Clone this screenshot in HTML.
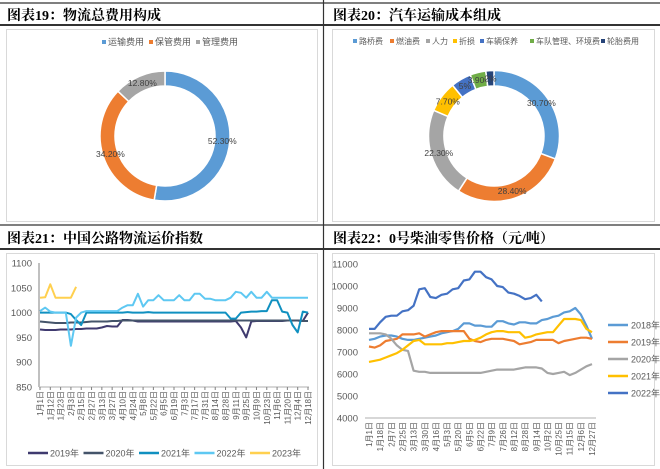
<!DOCTYPE html>
<html><head><meta charset="utf-8">
<style>
html,body{margin:0;padding:0;background:#fff;}
svg{display:block;font-family:"Liberation Sans","Noto Sans CJK SC",sans-serif;}
.t{font-family:"Liberation Serif","Noto Serif CJK SC",serif;font-weight:bold;font-size:14px;fill:#000;}
.ax{fill:#595959;font-size:9.5px;}
.xl{fill:#595959;font-size:8px;}
.lg{fill:#595959;font-size:9px;}
.lg2{fill:#595959;font-size:8px;}
</style></head><body>
<svg id="s" width="660" height="469" viewBox="0 0 660 469">
<g>
<line x1="0" y1="3" x2="660" y2="3" stroke="#333" stroke-width="1.2"/>
<line x1="0" y1="25" x2="660" y2="25" stroke="#333" stroke-width="2"/>
<line x1="0" y1="225" x2="660" y2="225" stroke="#333" stroke-width="1.2"/>
<line x1="0" y1="249" x2="660" y2="249" stroke="#333" stroke-width="2"/>
<line x1="323.5" y1="0" x2="323.5" y2="469" stroke="#333" stroke-width="1.2"/>
<rect x="6.5" y="29.5" width="311" height="192" fill="none" stroke="#d9d9d9"/>
<rect x="332.5" y="29.5" width="322" height="192" fill="none" stroke="#d9d9d9"/>
<rect x="6.5" y="253.5" width="311" height="212" fill="none" stroke="#d9d9d9"/>
<rect x="332.5" y="253.5" width="322" height="212" fill="none" stroke="#d9d9d9"/>
</g>
<text class="t" x="7" y="20">图表19：物流总费用构成</text>
<text class="t" x="333" y="20">图表20：汽车运输成本组成</text>
<text class="t" x="7" y="243">图表21：中国公路物流运价指数</text>
<text class="t" x="333" y="243">图表22：0号柴油零售价格（元/吨）</text>
<g id="c1"></g>
<g id="c2"></g>
<g id="c3"></g>
<g id="c4"></g>
</svg>
<script>
// ---- Chart 19 data
const c1Cats=["运输费用","保管费用","管理费用"];
const c1Vals=[52.3,34.2,12.8];
const c1Labels=["52.30%","34.20%","12.80%"];
const c1Colors=["#5b9bd5","#ed7d31","#a5a5a5"];
// ---- Chart 20 data
const c2Cats=["路桥费","燃油费","人力","折损","车辆保养","车队管理、环境费","轮胎费用"];
const c2Vals=[30.7,28.4,22.3,7.7,5,3.9,2.0];
const c2Labels=["30.70%","28.40%","22.30%","7.70%","5%","3.90%","2%"];
const c2Colors=["#5b9bd5","#ed7d31","#a5a5a5","#ffc000","#4472c4","#70ad47","#264478"];
// ---- Chart 21 data
const c3Ticks=[850,900,950,1000,1050,1100];
const c3XLabels=["1月1日","1月12日","1月23日","2月3日","2月15日","2月27日","3月13日","3月27日","4月10日","4月24日","5月8日","5月22日","6月5日","6月19日","7月3日","7月17日","7月31日","8月14日","8月28日","9月11日","9月25日","10月9日","10月23日","11月6日","11月20日","12月4日","12月18日"];
const c3Names=["2019年","2020年","2021年","2022年","2023年"];
const s2019=[966,965,965,965,966,966,966,967,967,968,968,968,970,973,972,972,985,985,984,982,982,982,982,982,982,982,982,982,982,982,982,982,982,982,982,982,982,982,983,970,950,982,983,983,983,983,983,983,984,984,984,983,1000];
const s2020=[982,981,980,979,979,979,980,980,980,981,982,982,982,982,983,983,984,984,984,984,984,984,984,984,984,984,984,984,984,984,984,984,984,984,984,984,984,984,984,984,984,984,984,984,984,984,984,984,984,984,984,983,983];
const s2021=[1000,1000,1000,1000,1000,1000,997,985,975,1000,1000,1000,1000,1000,1000,1000,1000,1001,1000,1000,1000,1001,1000,1000,1000,1000,1000,1000,1000,1000,1000,1000,1000,1000,1000,1000,1000,988,988,1000,1001,1002,1002,1003,1003,1025,1025,1002,1000,975,960,1002,1000];
const s2022=[1003,1010,1002,1000,1000,1000,933,990,1000,1003,1003,1003,1003,1003,1003,1003,1010,1015,1015,1038,1012,1025,1025,1035,1025,1025,1025,1035,1025,1025,1038,1038,1028,1028,1025,1025,1025,1030,1042,1040,1030,1042,1030,1030,1042,1030,1030,1030,1030,1030,1030,1030,1030];
const s2023=[1030,1031,1057,1030,1030,1030,1030,1052];
// ---- Chart 22 data
const c4Ticks=[4000,5000,6000,7000,8000,9000,10000,11000];
const c4XLabels=["1月1日","1月18日","2月7日","2月25日","3月13日","3月30日","4月16日","5月3日","5月20日","6月5日","6月22日","7月9日","7月26日","8月12日","8月28日","9月14日","10月2日","10月25日","11月15日","12月6日","12月27日"];
const c4Names=["2018年","2019年","2020年","2021年","2022年"];
const d2018=[7550,7600,7700,7750,7750,7700,7600,7550,7550,7600,7650,7700,7750,7850,7900,7950,8050,8300,8300,8200,8200,8150,8150,8400,8400,8300,8250,8350,8350,8300,8300,8450,8500,8600,8650,8800,8850,9000,8700,8200,7600];
const d2019=[7250,7200,7300,7500,7550,7600,7800,7800,7800,7850,7700,7800,7900,7950,7950,7950,7950,7950,7600,7500,7450,7550,7600,7600,7600,7550,7500,7350,7400,7450,7550,7550,7550,7550,7400,7500,7550,7600,7650,7650,7600];
const d2020=[7850,7850,7850,7800,7600,7300,7100,7050,6150,6100,6100,6050,6050,6050,6050,6050,6050,6050,6050,6050,6050,6100,6150,6200,6200,6200,6200,6250,6300,6300,6300,6250,6050,6000,6050,6100,5950,6050,6200,6350,6450];
const d2021=[6550,6600,6650,6750,6850,6950,7100,7300,7500,7550,7350,7350,7350,7350,7400,7400,7450,7500,7500,7550,7650,7800,7900,7950,7950,7900,7900,7900,7650,7700,7800,7850,7900,7900,8200,8500,8500,8500,8450,8050,7900];
const d2022=[8050,8050,8350,8600,8650,8650,8850,8900,9100,9850,9900,9500,9450,9600,9650,9850,9900,10250,10300,10650,10650,10400,10300,10000,9950,9700,9650,9550,9400,9450,9600,9300];

const NS="http://www.w3.org/2000/svg";
function mk(tag,attrs,parent,txt){const e=document.createElementNS(NS,tag);for(const k in attrs)e.setAttribute(k,attrs[k]);if(txt!==undefined)e.textContent=txt;parent.appendChild(e);return e;}

function donut(g,vals,labels,colors,cx,cy,ro,ri,names){
  const tot=vals.reduce((a,b)=>a+b,0);let a0=0;
  vals.forEach((v,i)=>{
    const a1=a0+v/tot*2*Math.PI;
    const p=(a,r)=>[cx+r*Math.sin(a),cy-r*Math.cos(a)];
    const [x1,y1]=p(a0,ro),[x2,y2]=p(a1,ro),[x3,y3]=p(a1,ri),[x4,y4]=p(a0,ri);
    const lg=(a1-a0)>Math.PI?1:0;
    const el=mk("path",{d:`M${x1},${y1}A${ro},${ro} 0 ${lg} 1 ${x2},${y2}L${x3},${y3}A${ri},${ri} 0 ${lg} 0 ${x4},${y4}Z`,fill:colors[i],stroke:"#fff","stroke-width":1.5},g);
    
    
    const [lx,ly]=p((a0+a1)/2,(ro+ri)/2);
    const t=mk("text",{x:lx,y:ly+3,"text-anchor":"middle","font-size":"8.5px",fill:"#404040"},g,labels[i]);
    
    
    a0=a1;
  });
}
function legendSq(g,names,colors,xs,y,cls){
  names.forEach((n,i)=>{
    const r=mk("rect",{x:xs[i],y:y-4,width:4,height:4,fill:colors[i]},g);
    
    
    const t=mk("text",{x:xs[i]+6,y:y+1,class:cls},g,n);
    
    
  });
}
// Chart 19
const g1=document.getElementById("c1");
legendSq(g1,c1Cats,c1Colors,[102,149,196],44,"lg");
donut(g1,c1Vals,c1Labels,c1Colors,165,136,65,50,c1Cats);
// Chart 20
const g2=document.getElementById("c2");
legendSq(g2,c2Cats,c2Colors,[353,390,426,453,480,530,601],43,"lg2");
donut(g2,c2Vals,c2Labels,c2Colors,494,136,65.5,50,c2Cats);

function lineChart(g,o){
  const {x0,x1,y0,y1,vmin,vmax,n,ticks,xl,labStep,series,colors,names,lw,tickX}=o;
  const ys=v=>y0-(v-vmin)/(vmax-vmin)*(y0-y1);
  const xs=i=>x0+o.pad+i*(x1-x0-2*o.pad)/(n-1);
  ticks.forEach(t=>{const e=mk("text",{x:tickX,y:ys(t)+3.5,"text-anchor":"end",class:"ax"},g,t);
    });
  if(o.yaxis){const a=mk("line",{x1:x0,y1:y1,x2:x0,y2:y0,stroke:"#808080"},g);}
  const ax=mk("line",{x1:x0,y1:y0,x2:x1,y2:y0,stroke:"#bfbfbf","stroke-width":1.2},g);
  
  xl.forEach((l,k)=>{const x=xs(k*labStep);
    if(o.xticks){const tk=mk("line",{x1:x,y1:y0,x2:x,y2:y0+3,stroke:"#808080"},g);}
    const t=mk("text",{x:0,y:0,transform:`translate(${x+3},${y0+4}) rotate(-90)`,"text-anchor":"end",class:"xl"},g,l);
    });
  series.forEach((s,si)=>{
    const d=s.map((v,i)=>(i?"L":"M")+xs(i).toFixed(1)+","+ys(v).toFixed(1)).join("");
    const p=mk("path",{d:d,fill:"none",stroke:colors[si],"stroke-width":lw,"stroke-linejoin":"round"},g);
    
  });
}
// Chart 21
const g3=document.getElementById("c3");
const c3Colors=["#3f3a6f","#44546a","#1090c0","#5ec8f2","#ffd04f"];
lineChart(g3,{x0:39,x1:309,y0:387,y1:263,vmin:850,vmax:1100,n:53,pad:1,ticks:c3Ticks,xl:c3XLabels,labStep:2,
  series:[s2019,s2020,s2021,s2022,s2023],colors:c3Colors,names:c3Names,lw:2,tickX:32,yaxis:true,xticks:true});
c3Names.forEach((n,i)=>{const x=28+i*55.5;
  const l=mk("line",{x1:x,y1:453,x2:x+20,y2:453,stroke:c3Colors[i],"stroke-width":2.5},g3);
  
  const t=mk("text",{x:x+22,y:456.5,class:"lg"},g3,n);
  });
// Chart 22
const g4=document.getElementById("c4");
const c4Colors=["#5b9bd5","#ed7d31","#a5a5a5","#ffc000","#4472c4"];
lineChart(g4,{x0:365,x1:596,y0:418,y1:264,vmin:4000,vmax:11000,n:41,pad:4,ticks:c4Ticks,xl:c4XLabels,labStep:2,
  series:[d2018,d2019,d2020,d2021,d2022],colors:c4Colors,names:c4Names,lw:2.2,tickX:358,yaxis:false,xticks:false});
c4Names.forEach((n,i)=>{const y=325+i*17;
  const l=mk("line",{x1:608,y1:y,x2:628,y2:y,stroke:c4Colors[i],"stroke-width":2.5},g4);
  
  const t=mk("text",{x:631,y:y+3.5,class:"lg"},g4,n);
  });
</script>
</body></html>
